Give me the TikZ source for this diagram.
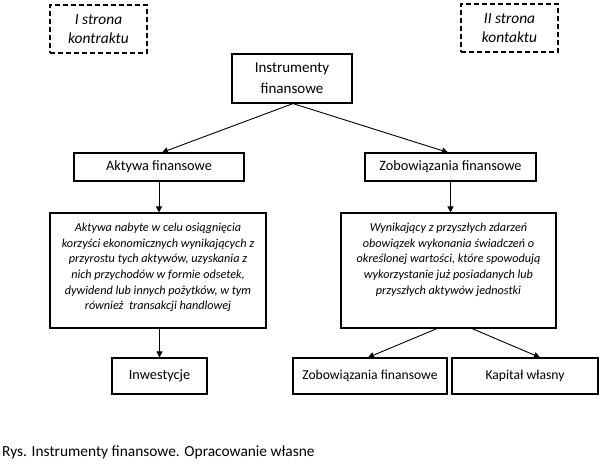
\documentclass[tikz,border=0pt]{standalone}
\usepackage{fontspec}
\setmainfont{Carlito}
\usetikzlibrary{arrows.meta}
\begin{document}
\begin{tikzpicture}[x=1pt,y=-1pt,
  box/.style={draw=black, line width=1.1pt, rectangle, inner sep=0pt, align=center,
    font=\fontsize{14.3}{21}\selectfont},
  dbox/.style={box, dashed, dash pattern=on 5pt off 3pt, font=\fontsize{15.4}{19}\selectfont\itshape},
  conn/.style={line width=0.9pt, -{Triangle[length=6pt,width=6pt]}},
  smalltext/.style={font=\fontsize{12.2}{15.7}\selectfont\itshape}
]
\useasboundingbox (0,0) rectangle (613,467);
\node[dbox, minimum width=97pt, minimum height=48pt] (s1) at (98.5,29) {I strona\\kontraktu};
\node[dbox, minimum width=97pt, minimum height=48pt] (s2) at (509.5,28) {II strona\\kontaktu};
\node[box, minimum width=120pt, minimum height=49pt, font=\fontsize{15}{21}\selectfont] (instr) at (292,78.5) {Instrumenty\\finansowe};
\node[box, minimum width=170pt, minimum height=28pt] (akt) at (159,167) {Aktywa finansowe};
\node[box, minimum width=171pt, minimum height=28pt] (zob) at (450.5,167) {Zobowiązania finansowe};
\node[box, smalltext, minimum width=216pt, minimum height=115pt] (big1) at (158,270.5)
  {\begin{minipage}[c][105pt][t]{212pt}\centering\fontsize{12.2}{15.7}\selectfont\itshape
   \vspace*{5pt}Aktywa nabyte w celu osiągnięcia\\
   korzyści ekonomicznych wynikających z\\
   przyrostu tych aktywów, uzyskania z\\
   nich przychodów w formie odsetek,\\
   dywidend lub innych pożytków, w tym\\
   również\ \ transakcji handlowej\end{minipage}};
\node[box, smalltext, minimum width=215pt, minimum height=115pt] (big2) at (448.5,270.5)
  {\begin{minipage}[c][105pt][t]{212pt}\centering\fontsize{12.2}{15.7}\selectfont\itshape
   \vspace*{5pt}Wynikający z przyszłych zdarzeń\\
   obowiązek wykonania świadczeń o\\
   określonej wartości, które spowodują\\
   wykorzystanie już posiadanych lub\\
   przyszłych aktywów jednostki\end{minipage}};
\node[box, minimum width=95pt, minimum height=36pt] (inw) at (159.5,376) {Inwestycje};
\node[box, minimum width=154pt, minimum height=36pt, font=\fontsize{13.6}{17}\selectfont] (zob2) at (370,376) {Zobowiązania finansowe};
\node[box, minimum width=146pt, minimum height=36pt, font=\fontsize{13.6}{17}\selectfont] (kap) at (525,376) {Kapitał własny};
\node[anchor=west, inner sep=0pt, font=\fontsize{15.4}{18}\selectfont] (cap) at (2,452) {Rys. Instrumenty finansowe. Opracowanie własne};

\draw[conn] ([xshift=1pt]instr.south) -- ([xshift=3pt]akt.north);
\draw[conn] ([xshift=1pt]instr.south) -- ([xshift=-2.5pt]zob.north);
\draw[conn] (akt.south) -- (akt.south |- big1.north);
\draw[conn] (zob.south) -- (zob.south |- big2.north);
\draw[conn] (big1.south -| inw.north) -- (inw.north);
\draw[conn] ([xshift=-11.5pt]big2.south) -- ([xshift=-2pt]zob2.north);
\draw[conn] ([xshift=23.5pt]big2.south) -- ([xshift=15pt]kap.north);
\end{tikzpicture}
\end{document}
